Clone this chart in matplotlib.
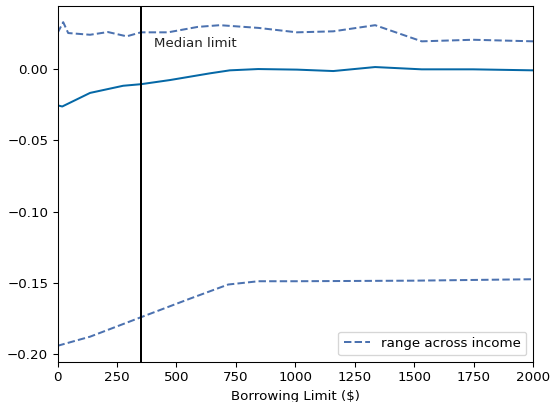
import matplotlib
matplotlib.use("Agg")
import matplotlib.pyplot as plt

# Mean effect (solid line)
x_mean = [0, 20, 137, 276, 351, 473, 641, 725, 844, 1007, 1160, 1336, 1532, 1748, 2000]
y_mean = [-0.0257, -0.0265, -0.0170, -0.0120, -0.0109, -0.0080, -0.0033, -0.0012, -0.0003,
          -0.0007, -0.0017, 0.0011, -0.0005, -0.0005, -0.0012]

# Upper bound of range across income
x_upper = [0, 24, 45, 137, 212, 291, 351, 465, 590, 683, 845, 1007, 1160, 1336, 1532, 1748, 2000]
y_upper = [0.0249, 0.0325, 0.0249, 0.0237, 0.0256, 0.0226, 0.0254, 0.0254, 0.0292, 0.0304,
           0.0285, 0.0254, 0.0261, 0.0304, 0.0191, 0.0202, 0.0191]

# Lower bound of range across income
x_lower = [0, 137, 351, 557, 718, 845, 1000, 1500, 2000]
y_lower = [-0.194, -0.1876, -0.174, -0.161, -0.1511, -0.1488, -0.1488, -0.1484, -0.1474]

median_limit = 351

W, H = 552, 402
fig = plt.figure(figsize=(W / 96, H / 96), dpi=96)
ax = fig.add_axes([57.5 / W, (H - 362) / H, 475.5 / W, 356 / H])

ax.plot(x_mean, y_mean, color="#0568a6", lw=1.5)
ax.plot(x_upper, y_upper, color="#4c72b0", lw=1.5, ls="--", label="range across income")
ax.plot(x_lower, y_lower, color="#4c72b0", lw=1.5, ls="--")
ax.axvline(median_limit, color="black", lw=1.5)
ax.text(median_limit + 55, 0.0148, "Median limit", fontsize=10, color="#222222")

ax.set_xlim(0, 2000)
ax.set_xlabel("Borrowing Limit ($)")
ax.legend(loc="lower right")

fig.savefig("out.png", dpi=96)
